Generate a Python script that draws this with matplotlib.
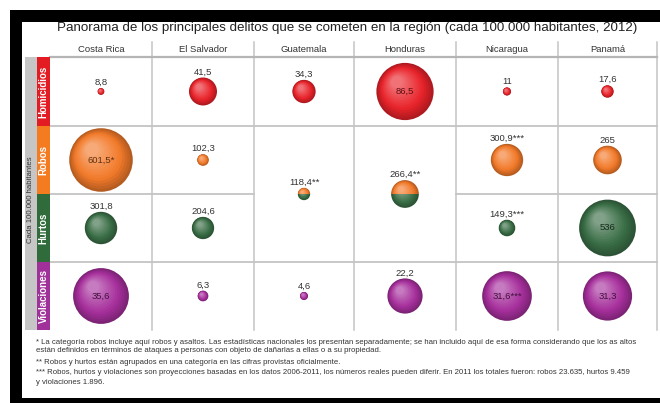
import matplotlib.pyplot as plt
import numpy as np
from matplotlib.patches import Circle, Rectangle

plt.rcParams['font.family'] = ['Liberation Sans', 'DejaVu Sans']

countries = ['Costa Rica', 'El Salvador', 'Guatemala', 'Honduras', 'Nicaragua', 'Panamá']
crimes = ['Homicidios', 'Robos', 'Hurtos', 'Violaciones']

homicidios = [8.8, 41.5, 34.3, 86.5, 11, 17.6]
robos = [601.5, 102.3, None, None, 300.9, 265]
hurtos = [301.8, 204.6, None, None, 149.3, 536]
robos_hurtos = [None, None, 118.4, 266.4, None, None]   # reported as one category
violaciones = [35.6, 6.3, 4.6, 22.2, 31.6, 31.3]

robos_note = ['*', '', '', '', '***', '']
hurtos_note = ['', '', '', '', '***', '']
combined_note = ['', '', '**', '**', '', '']
viol_note = ['', '', '', '', '***', '']

title = 'Panorama de los principales delitos que se cometen en la región (cada 100.000 habitantes, 2012)'
footnotes = [
    '* La categoría robos incluye aquí robos y asaltos. Las estadísticas nacionales los presentan separadamente; se han incluido aquí de esa forma considerando que los as altos',
    'están definidos en términos de ataques a personas con objeto de dañarlas a ellas o a su propiedad.',
    '** Robos y hurtos están agrupados en una categoría en las cifras provistas oficialmente.',
    '*** Robos, hurtos y violaciones son proyecciones basadas en los datos 2006-2011, los números reales pueden diferir. En 2011 los totales fueron: robos 23.635, hurtos 9.459',
    'y violaciones 1.896.',
]

ball_colors = ['#e8232a', '#f27a2a', '#3a6e46', '#a62f9c']
tab_colors = ['#e31b23', '#f47b20', '#2f6b3b', '#a0309a']
scale = [0.325, 0.052, 0.052, 0.77]   # radius per unit, by row

col_edges = [50, 152, 254, 354, 456, 558, 657]
row_edges = [57, 126, 194, 262, 330]


def fmt(v):
    return ('%g' % v).replace('.', ',')


def mix(c, other, t):
    c = np.array(plt.matplotlib.colors.to_rgb(c))
    o = np.array(plt.matplotlib.colors.to_rgb(other))
    return tuple(c * (1 - t) + o * t)


def ball(ax, x, y, r, color, clip=None):
    n = 14
    for i in range(n):
        t = i / n
        rr = r * (1 - 0.85 * t)
        cx = x - 0.30 * r * t
        cy = y - 0.35 * r * t
        if t < 0.3:
            col = mix(color, 'black', 0.25 * (0.3 - t) / 0.3)
        else:
            col = mix(color, 'white', 0.4 * (t - 0.3) / 0.7)
        c = Circle((cx, cy), rr, facecolor=col, edgecolor='none', zorder=3)
        ax.add_patch(c)
        if clip is not None:
            c.set_clip_path(clip)


def label(ax, x, y, r, text, color):
    if r > 20:
        ax.text(x, y, text, ha='center', va='center', fontsize=6.8,
                color=mix(color, 'black', 0.6), zorder=5)
    else:
        ax.text(x, y - r - 1, text, ha='center', va='bottom', fontsize=6.8,
                color='#333333', zorder=5)


fig = plt.figure(figsize=(6.6, 4.03), dpi=100)
ax = fig.add_axes([0, 0, 1, 1])
ax.set_xlim(0, 660)
ax.set_ylim(403, 0)
ax.axis('off')

# frame
ax.add_patch(Rectangle((10, 10), 650, 393, facecolor='black', edgecolor='none', zorder=0))
ax.add_patch(Rectangle((22, 22), 638, 376, facecolor='white', edgecolor='none', zorder=0))

ax.text(347, 28.5, title, ha='center', va='center', fontsize=9.6, color='#222222')

# column headers
for j, name in enumerate(countries):
    ax.text((col_edges[j] + col_edges[j + 1]) / 2, 50, name, ha='center', va='center',
            fontsize=6.8, color='#333333')

# grid
gc = '#c4c4c4'
for xe in col_edges[1:]:
    ax.plot([xe, xe], [42, 330], color=gc, lw=1.1, zorder=1)
ax.plot([col_edges[0], 657], [57, 57], color='#b5b5b5', lw=1.6, zorder=1)
ax.plot([col_edges[0], 657], [126, 126], color=gc, lw=1.3, zorder=1)
ax.plot([col_edges[0], 657], [262, 262], color=gc, lw=1.3, zorder=1)
ax.plot([col_edges[0], 254], [194, 194], color=gc, lw=1.3, zorder=1)
ax.plot([456, 657], [194, 194], color=gc, lw=1.3, zorder=1)

# row tabs
ax.add_patch(Rectangle((25, 57), 12, 273, facecolor='#c6c6c6', edgecolor='none', zorder=1))
ax.text(31, 200, 'Cada 100.000 habitantes', rotation=90, ha='center', va='center',
        fontsize=5.6, color='#333333')
for i, name in enumerate(crimes):
    y0, y1 = row_edges[i], row_edges[i + 1]
    ax.add_patch(Rectangle((37, y0), 13, y1 - y0, facecolor=tab_colors[i], edgecolor='none', zorder=1))
    ax.text(43.5, (y0 + y1) / 2, name, rotation=90, ha='center', va='center',
            fontsize=7, color='white', fontweight='bold')

rows = [
    (homicidios, [''] * 6),
    (robos, robos_note),
    (hurtos, hurtos_note),
    (violaciones, viol_note),
]
for i, (vals, notes) in enumerate(rows):
    cy = (row_edges[i] + row_edges[i + 1]) / 2
    for j, v in enumerate(vals):
        if v is None:
            continue
        cx = (col_edges[j] + col_edges[j + 1]) / 2
        r = scale[i] * v + 0.5
        ball(ax, cx, cy, r, ball_colors[i])
        label(ax, cx, cy, r, fmt(v) + notes[j], ball_colors[i])

# merged robos + hurtos cells: half orange, half green
for j, v in enumerate(robos_hurtos):
    if v is None:
        continue
    cx = (col_edges[j] + col_edges[j + 1]) / 2
    cy = row_edges[2]
    r = scale[1] * v
    top = Rectangle((cx - r - 2, cy - r - 2), 2 * r + 4, r + 2, transform=ax.transData)
    bot = Rectangle((cx - r - 2, cy), 2 * r + 4, r + 2, transform=ax.transData)
    ball(ax, cx, cy, r, ball_colors[1], clip=top)
    ball(ax, cx, cy, r, ball_colors[2], clip=bot)
    label(ax, cx, cy, r, fmt(v) + combined_note[j], ball_colors[1])

# footnotes
for line, yy in zip(footnotes, [342, 351, 362, 373, 382]):
    ax.text(36, yy, line, ha='left', va='center', fontsize=5.6, color='#333333')

fig.savefig('out.png', dpi=100)
